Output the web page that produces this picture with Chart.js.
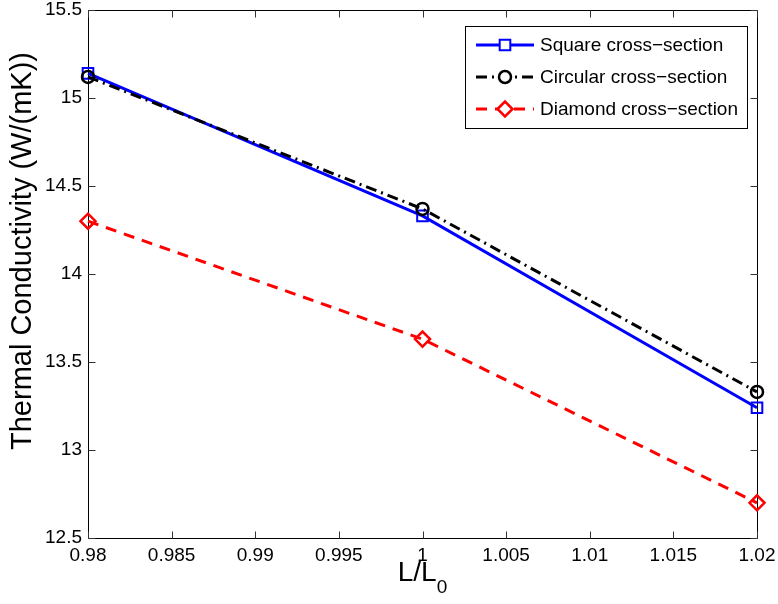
<!DOCTYPE html>
<html>
<head>
<meta charset="utf-8">
<script src="https://cdn.jsdelivr.net/npm/chart.js@4"></script>
<style>
html,body{margin:0;padding:0;background:#fff;}
#wrap{width:778px;height:604px;}
</style>
</head>
<body>
<div id="wrap"><canvas id="c" width="778" height="604"></canvas></div>
<script>
const xValues = [0.98, 1.00, 1.02];
const squareVals = [15.14, 14.33, 13.24];
const circularVals = [15.12, 14.37, 13.33];
const diamondVals = [14.30, 13.63, 12.70];
const seriesNames = ['Square cross\u2212section', 'Circular cross\u2212section', 'Diamond cross\u2212section'];
const yTitle = 'Thermal Conductivity (W/(mK))';
const xTitleMain = 'L/L';
const xTitleSub = '0';

const FONT = '"Liberation Sans", Arial, Helvetica, sans-serif';

function pts(vals){ return xValues.map((x,i)=>({x:x, y:vals[i]})); }

const styles = [
  {color:'#0000ff', dash:[], width:3, point:'rect', radius:7.5, pw:2},
  {color:'#000000', dash:[11,5,2,5], width:3, point:'circle', radius:6, pw:2.5},
  {color:'#ff0000', dash:[11,8], width:3, point:'rectRot', radius:7.5, pw:2.5}
];
const allVals = [squareVals, circularVals, diamondVals];

const datasets = allVals.map((v,i)=>({
  label: seriesNames[i],
  data: pts(v),
  borderColor: styles[i].color,
  borderWidth: styles[i].width,
  borderDash: styles[i].dash,
  pointStyle: styles[i].point,
  pointRadius: styles[i].radius,
  pointBorderWidth: styles[i].pw,
  pointBackgroundColor: 'rgba(0,0,0,0)',
  pointBorderColor: styles[i].color,
  tension: 0,
  fill: false,
  clip: false,
  order: [2,1,3][i]
}));

const fmt = v => String(+Number(v).toFixed(3));

const framePlugin = {
  id: 'frame',
  beforeDatasetsDraw(chart){
    const ctx = chart.ctx, a = chart.chartArea;
    const xs = chart.scales.x, ys = chart.scales.y;
    ctx.save();
    ctx.strokeStyle = '#000';
    ctx.lineWidth = 1;
    ctx.setLineDash([]);
    const L = Math.round(a.left)+0.5, R = Math.round(a.right)+0.5, T = Math.round(a.top)+0.5, B = Math.round(a.bottom)+0.5;
    ctx.beginPath();
    ctx.rect(L, T, R-L, B-T);
    ctx.stroke();
    const tl = 7;
    ctx.strokeStyle = '#333';
    ctx.beginPath();
    xs.ticks.forEach(t=>{
      const px = Math.round(xs.getPixelForValue(t.value))+0.5;
      ctx.moveTo(px, B); ctx.lineTo(px, B-tl);
      ctx.moveTo(px, T); ctx.lineTo(px, T+tl);
    });
    ys.ticks.forEach(t=>{
      const py = Math.round(ys.getPixelForValue(t.value))+0.5;
      ctx.moveTo(L, py); ctx.lineTo(L+tl, py);
      ctx.moveTo(R, py); ctx.lineTo(R-tl, py);
    });
    ctx.stroke();
    ctx.restore();
  },
  afterDatasetsDraw(chart){
    const ctx = chart.ctx, a = chart.chartArea;
    ctx.save();
    // legend
    const bx = 465.5, by = 26.5, bw = 282, bh = 102;
    ctx.fillStyle = '#fff';
    ctx.fillRect(bx, by, bw, bh);
    ctx.strokeStyle = '#000';
    ctx.lineWidth = 1;
    ctx.setLineDash([]);
    ctx.strokeRect(bx, by, bw, bh);
    const rows = [45, 77, 109];
    ctx.font = '19px ' + FONT;
    ctx.textBaseline = 'middle';
    ctx.textAlign = 'left';
    datasets.forEach((d,i)=>{
      const y = rows[i];
      ctx.save();
      ctx.strokeStyle = d.borderColor;
      ctx.lineWidth = d.borderWidth;
      ctx.setLineDash(d.borderDash);
      ctx.beginPath();
      ctx.moveTo(476, y); ctx.lineTo(534, y);
      ctx.stroke();
      ctx.setLineDash([]);
      ctx.lineWidth = d.pointBorderWidth;
      ctx.fillStyle = '#fff';
      Chart.helpers.drawPoint(ctx, {pointStyle: d.pointStyle, radius: d.pointRadius, rotation: 0, borderWidth: d.pointBorderWidth}, 505, y);
      ctx.restore();
      ctx.fillStyle = '#000';
      ctx.fillText(d.label, 540, y+1);
    });

    // axis titles
    ctx.fillStyle = '#000';
    ctx.textAlign = 'center';
    ctx.textBaseline = 'middle';
    ctx.save();
    ctx.translate(23, 251);
    ctx.rotate(-Math.PI/2);
    ctx.font = '29px ' + FONT;
    ctx.fillText(yTitle, 0, 0);
    ctx.restore();

    ctx.font = '28px ' + FONT;
    const mw = ctx.measureText(xTitleMain).width;
    ctx.font = '19px ' + FONT;
    const sw = ctx.measureText(xTitleSub).width;
    const cx = (a.left + a.right)/2;
    const sx = cx - (mw + sw)/2;
    ctx.textAlign = 'left';
    ctx.font = '28px ' + FONT;
    ctx.fillText(xTitleMain, sx, 573);
    ctx.font = '19px ' + FONT;
    ctx.fillText(xTitleSub, sx + mw, 588);
    ctx.restore();
  }
};

new Chart(document.getElementById('c'), {
  type: 'line',
  data: { datasets: datasets },
  options: {
    responsive: false,
    animation: false,
    devicePixelRatio: 1,
    layout: { padding: { top: 10, right: 21, left: 0, bottom: 0 } },
    plugins: { legend: { display: false }, tooltip: { enabled: false }, title: { display: false } },
    scales: {
      x: {
        type: 'linear', min: 0.98, max: 1.02,
        grid: { display: false, drawTicks: false },
        border: { display: false },
        ticks: { stepSize: 0.005, callback: fmt, color: '#000', font: { family: FONT, size: 19 }, padding: 6, maxRotation: 0, autoSkip: false },
        afterFit: s => { s.height = 66; s.paddingLeft = 0; s.paddingRight = 0; }
      },
      y: {
        type: 'linear', min: 12.5, max: 15.5,
        grid: { display: false, drawTicks: false },
        border: { display: false },
        ticks: { stepSize: 0.5, callback: fmt, color: '#000', font: { family: FONT, size: 19 }, padding: 6 },
        afterFit: s => { s.width = 88; s.paddingTop = 0; s.paddingBottom = 0; }
      }
    }
  },
  plugins: [framePlugin]
});
</script>
</body>
</html>
